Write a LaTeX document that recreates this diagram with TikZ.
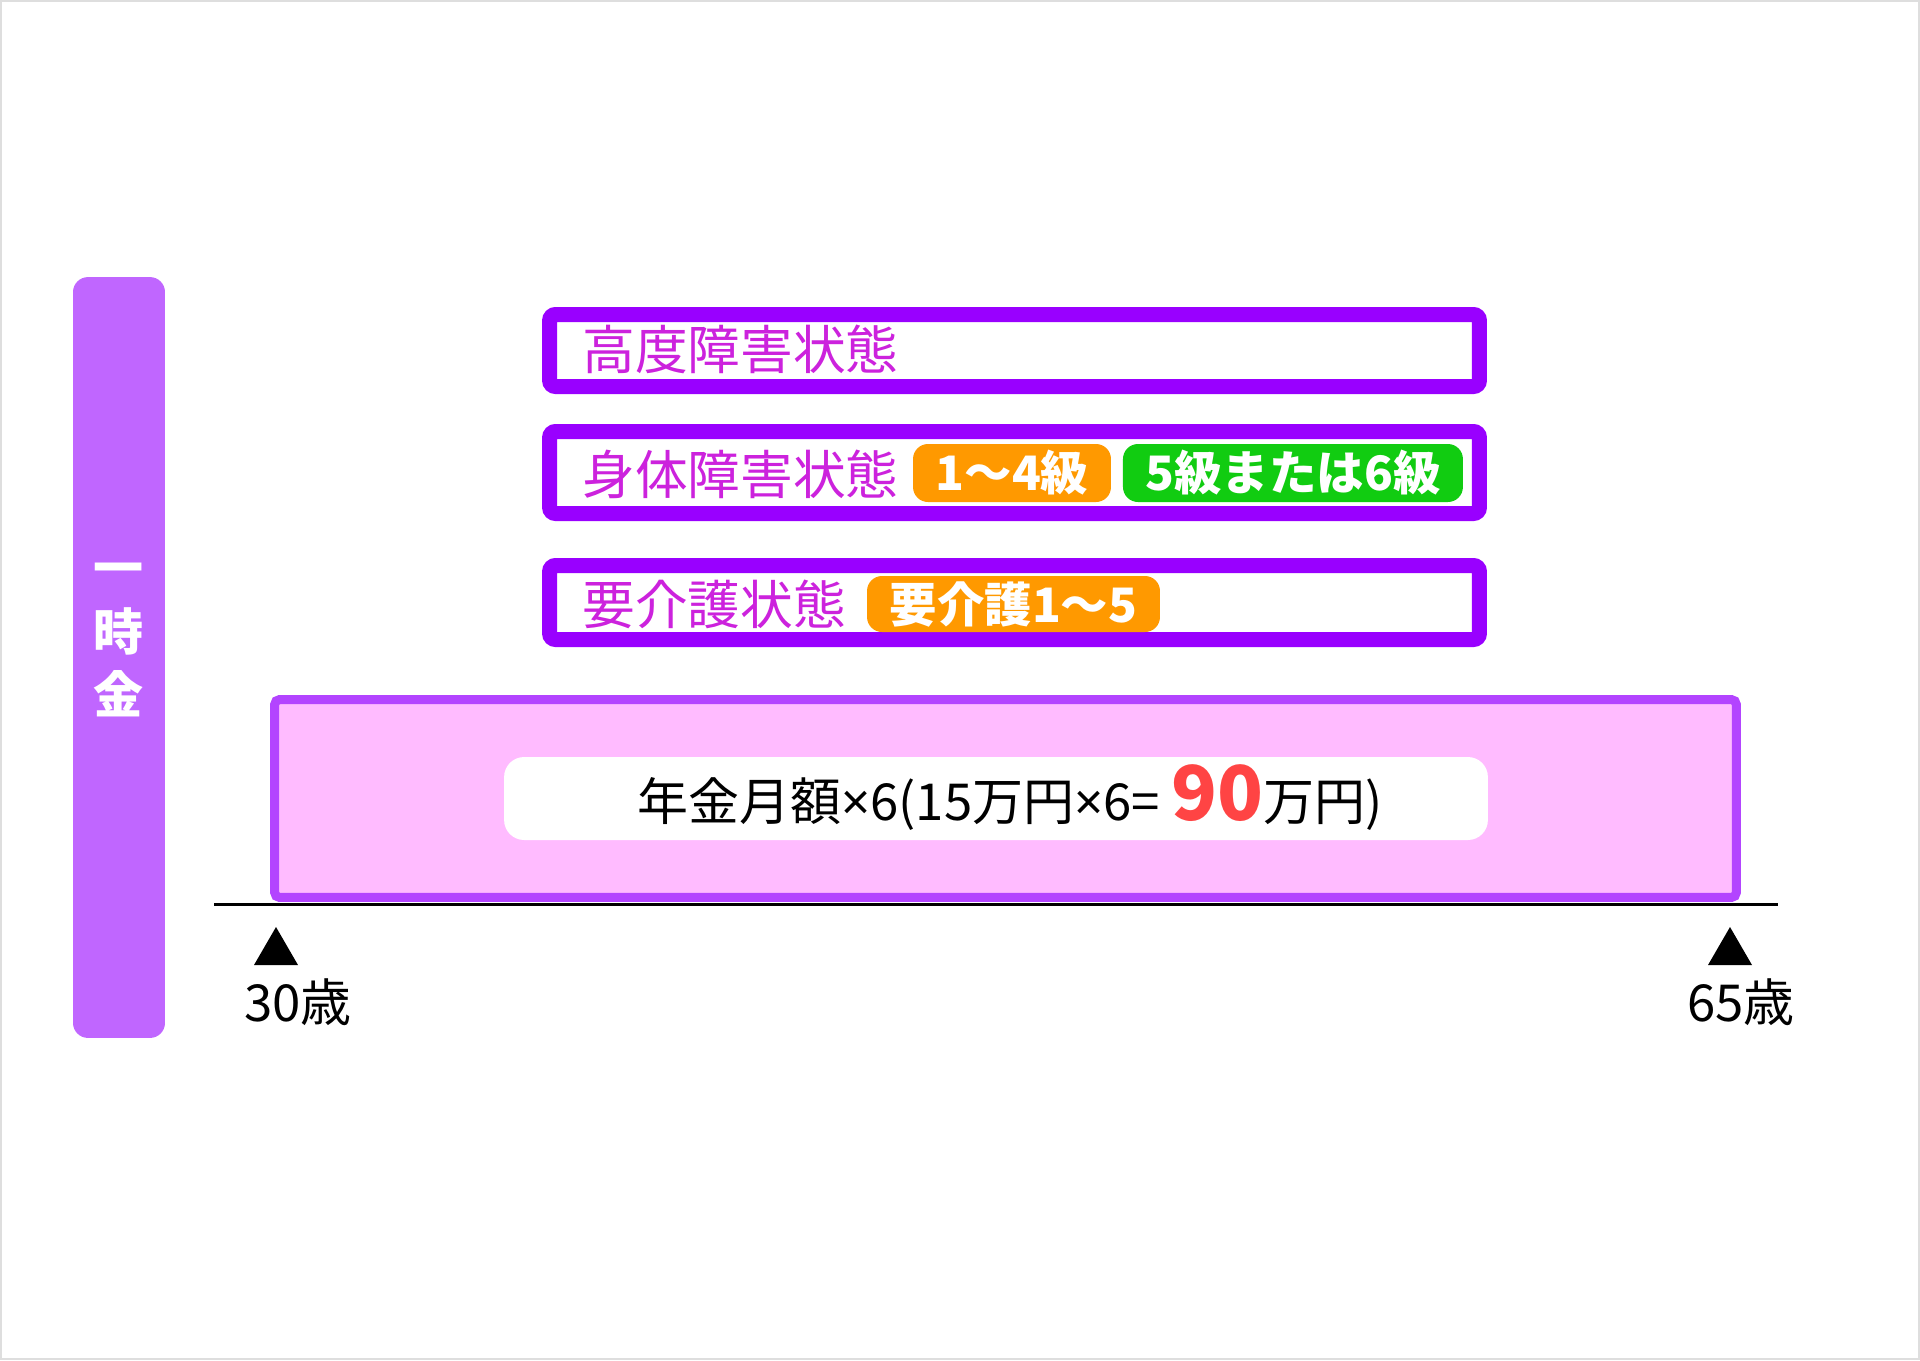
\documentclass[tikz,border=0pt]{standalone}
\usepackage{fontspec}
\setmainfont{Noto Sans CJK JP}
\newfontfamily\narrowsym{Noto Sans}
\usetikzlibrary{positioning}
\definecolor{framepurple}{HTML}{9900FF}
\definecolor{labelmagenta}{HTML}{CC22DD}
\definecolor{badgeorange}{HTML}{FF9900}
\definecolor{badgegreen}{HTML}{11CC11}
\definecolor{barviolet}{HTML}{C066FF}
\definecolor{periodpink}{HTML}{FFBBFF}
\definecolor{periodedge}{HTML}{B344FF}
\definecolor{amountred}{HTML}{FF4444}
\newcommand{\ntimes}{{\narrowsym ×}}

\begin{document}
\begin{tikzpicture}[x=0.02cm,y=-0.02cm,
    stateframe/.style={rectangle,draw=framepurple,line width=0.3cm,rounded corners=0.12cm,fill=white,minimum width=18.6cm},
    statelabel/.style={anchor=west,inner sep=0pt,text=labelmagenta,font=\fontsize{30pt}{36pt}\selectfont},
    badge/.style={rectangle,rounded corners=0.3cm,minimum height=1.16cm,inner sep=0pt,outer sep=0pt,text=white,font=\bfseries\fontsize{27pt}{32pt}\selectfont},
    agelabel/.style={font=\fontsize{29pt}{34pt}\selectfont}]

\useasboundingbox (0,0) rectangle (1920,1360);
\draw[draw=black!13,line width=0.04cm] (1,1) rectangle (1919,1359);

\node[rectangle,fill=barviolet,rounded corners=0.3cm,minimum width=1.84cm,minimum height=15.22cm] (lumpbar) at (119,657.5) {};
\node[text=white,align=center,font=\bfseries\fontsize{28.5pt}{36pt}\selectfont] (lumplabel) at (119,640) {一\\時\\金};

\node[stateframe,minimum height=1.44cm] (severe) at (1014.5,350.5) {};
\node[statelabel] (severelabel) at (582,349) {高度障害状態};

\node[stateframe,minimum height=1.64cm] (physical) at (1014.5,472.5) {};
\node[statelabel] (physicallabel) at (582,474) {身体障害状態};
\node[badge,fill=badgeorange,minimum width=3.96cm] (grade14) at (1012,473) {1〜4級};
\node[badge,fill=badgegreen,minimum width=6.8cm,right=0.24cm of grade14] (grade56) {5級または6級};

\node[stateframe,minimum height=1.48cm] (care) at (1014.5,602.5) {};
\node[statelabel] (carelabel) at (582,604) {要介護状態};
\node[badge,fill=badgeorange,minimum width=5.86cm,minimum height=1.12cm] (care15) at (1013.5,604) {要介護1〜5};

\node[rectangle,draw=periodedge,fill=periodpink,line width=0.18cm,rounded corners=0.1cm,minimum width=29.24cm,minimum height=3.96cm] (period) at (1005.5,798.5) {};
\node[rectangle,fill=white,rounded corners=0.4cm,minimum width=19.68cm,minimum height=1.66cm] (amountbox) at (996,798.5) {};
\node[anchor=base,inner sep=0pt,font=\fontsize{29pt}{34pt}\selectfont] (amount) at (1010,820)
  {年金月額\ntimes 6(15万円\ntimes 6= {\bfseries\color{amountred}\fontsize{43pt}{48pt}\selectfont 90}万円)};

\coordinate (axisstart) at (214,904);
\coordinate (axisend) at (1778,904);
\draw[line width=0.06cm] (axisstart) -- (axisend);

\fill (276,927) -- (298,965) -- (254,965) -- cycle;
\fill (1730,927) -- (1752,965) -- (1708,965) -- cycle;
\node[agelabel] (age30) at (298,1002) {30歳};
\node[agelabel] (age65) at (1741,1002) {65歳};

\end{tikzpicture}
\end{document}
